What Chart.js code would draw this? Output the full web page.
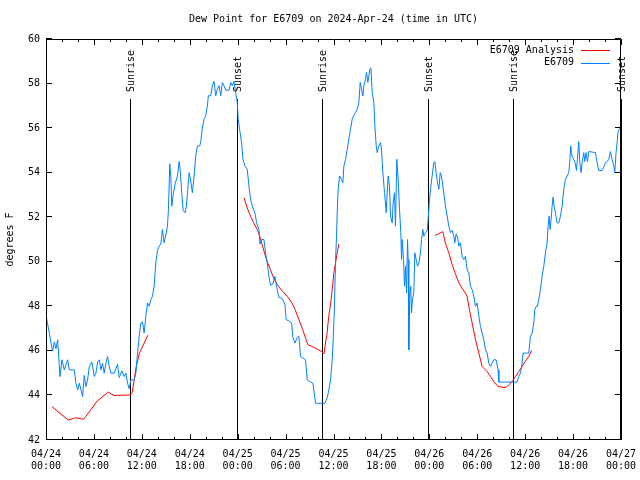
<!DOCTYPE html>
<html>
<head>
<meta charset="utf-8">
<script src="https://cdn.jsdelivr.net/npm/chart.js@4.4.1/dist/chart.umd.min.js"></script>
<style>
    html, body { margin: 0; padding: 0; background: #fff; }
</style>
</head>
<body>
<canvas id="dewChart" width="640" height="480"></canvas>
<script>
const TITLE = 'Dew Point for E6709 on 2024-Apr-24 (time in UTC)';
const Y_TITLE = 'degrees F';
const DAY_LABELS = ['04/24', '04/25', '04/26', '04/27'];
const SUNRISE_HOURS = [10.52, 34.56, 58.48];
const SUNSET_HOURS = [23.92, 47.88, 71.95];

// observed dew point, hours since 04/24 00:00 UTC
const obsHours1 = [0, 0.42, 0.63, 0.83, 1.04, 1.25, 1.46, 1.75, 2.0, 2.29, 2.71, 2.92, 3.33, 3.54, 3.75, 3.96, 4.17, 4.38, 4.58, 4.79,
    5.0, 5.21, 5.42, 5.75, 6.04, 6.25, 6.46, 6.67, 6.88, 7.08, 7.29, 7.5, 7.71, 7.92, 8.13, 8.54, 8.96, 9.17, 9.5, 9.79,
    10.0, 10.21, 10.42, 10.63, 11.04, 11.25, 11.46, 11.67, 11.88, 12.08, 12.29, 12.5, 12.71, 12.92, 13.13, 13.33, 13.54, 13.75, 13.96, 14.17,
    14.38, 14.58, 14.79, 15.0, 15.21, 15.33, 15.5, 15.63, 15.75, 15.96, 16.17, 16.46, 16.67, 16.79, 17.0, 17.17, 17.42, 17.58, 17.75, 17.92,
    18.04, 18.21, 18.33, 18.54, 18.75, 18.96, 19.25, 19.38, 19.58, 19.79, 20.0, 20.21, 20.33, 20.63, 20.83, 21.04, 21.25, 21.46, 21.67, 21.88,
    22.08, 22.29, 22.5, 22.92, 23.13, 23.33, 23.54, 23.75];
const obsDew1 = [47.6, 46.8, 46.35, 46.0, 46.4, 46.1, 46.5, 44.85, 45.6, 45.15, 45.6, 45.15, 45.15, 45.15, 44.55, 44.25, 44.55, 44.25, 43.95, 44.9,
    44.4, 44.7, 45.3, 45.5, 44.85, 45.0, 45.5, 45.6, 45.15, 45.45, 45.0, 45.45, 45.75, 45.3, 45.0, 45.0, 45.4, 44.8, 45.1, 44.85,
    45.0, 44.55, 44.3, 44.7, 44.7, 45.0, 45.9, 46.65, 47.25, 47.3, 46.8, 47.55, 48.15, 48.0, 48.3, 48.45, 48.9, 49.95, 50.5, 50.7,
    50.8, 51.45, 50.85, 51.2, 51.6, 52.35, 54.4, 53.85, 52.5, 53.1, 53.5, 53.85, 54.5, 54.15, 53.1, 52.3, 52.2, 52.5, 53.25, 54.0,
    53.8, 53.4, 53.1, 53.85, 54.75, 55.2, 55.2, 55.4, 56.0, 56.4, 56.55, 57.0, 57.45, 57.45, 57.9, 58.1, 57.45, 57.75, 57.9, 57.45,
    58.05, 57.9, 57.7, 57.7, 58.05, 57.9, 58.1, 57.6];

const obsHours2 = [23.95, 24.07, 24.24, 24.49, 24.66, 24.91, 25.2, 25.41, 25.62, 25.83, 26.16, 26.37, 26.66, 26.79, 26.99, 27.29, 27.49, 27.7, 27.91, 28.12,
    28.41, 28.66, 28.95, 29.16, 29.58, 29.91, 30.08, 30.41, 30.75, 30.92, 31.17, 31.46, 31.67, 31.87, 32.08, 32.5, 32.71, 33.13, 33.42, 33.59,
    33.75, 34.17, 34.59, 34.92, 35.21, 35.42, 35.63, 35.84, 35.96, 36.09, 36.26, 36.38, 36.46, 36.59, 36.76, 37.01, 37.17, 37.3, 37.51, 37.72,
    37.92, 38.13, 38.34, 38.55, 38.76, 38.97, 39.18, 39.34, 39.51, 39.68, 39.8, 40.01, 40.14, 40.3, 40.43, 40.55, 40.68, 40.85, 41.05, 41.18,
    41.35, 41.47, 41.68, 41.89, 42.01, 42.18, 42.39, 42.6, 42.72, 42.85, 43.01, 43.14, 43.35, 43.47, 43.64, 43.76, 43.93, 44.1, 44.27, 44.43,
    44.52, 44.6, 44.77, 44.89, 45.02, 45.14, 45.27, 45.35, 45.43, 45.56, 45.68, 45.77, 45.89, 46.06, 46.18, 46.35, 46.52, 46.69, 46.89, 47.02,
    47.19, 47.31, 47.52];
const obsDew2 = [57.15, 56.4, 55.95, 55.35, 54.6, 54.3, 54.15, 53.4, 52.8, 52.5, 52.2, 51.75, 51.45, 50.8, 51.0, 51.0, 50.4, 49.95, 49.35, 48.95,
    49.0, 49.35, 48.75, 48.4, 48.35, 48.1, 47.4, 47.35, 47.25, 46.6, 46.35, 46.6, 46.65, 45.75, 45.7, 45.6, 44.7, 44.6, 44.55, 44.1,
    43.65, 43.65, 43.65, 43.65, 43.9, 44.25, 44.7, 45.6, 46.5, 47.7, 50.1, 51.15, 52.2, 53.25, 53.85, 53.7, 53.55, 54.3, 54.6, 55.05,
    55.5, 55.95, 56.4, 56.55, 56.7, 56.85, 57.15, 58.05, 57.75, 57.45, 57.9, 58.2, 58.5, 58.05, 58.35, 58.65, 58.7, 57.6, 57.15, 56.1,
    55.2, 54.9, 55.2, 55.35, 55.05, 54.0, 53.1, 52.2, 53.1, 53.85, 53.4, 52.05, 51.75, 52.65, 53.1, 51.6, 54.6, 53.7, 52.35, 51.3,
    50.1, 51.0, 50.1, 48.9, 49.8, 48.6, 51.0, 50.1, 46.05, 48.6, 48.9, 47.7, 48.3, 48.6, 50.4, 50.1, 49.8, 49.95, 50.4, 51.0,
    51.45, 51.15, 51.3];

const obsHours3 = [47.73, 47.85, 48.02, 48.19, 48.35, 48.56, 48.69, 48.85, 49.02, 49.19, 49.36, 49.52, 49.69, 49.86, 50.02, 50.23, 50.44, 50.65, 50.86, 51.07,
    51.19, 51.36, 51.53, 51.69, 51.9, 52.11, 52.32, 52.53, 52.73, 52.94, 53.15, 53.36, 53.57, 53.78, 53.99, 54.2, 54.4, 54.61, 54.82, 55.03,
    55.24, 55.45, 55.66, 55.86, 56.07, 56.36, 56.61, 56.7, 58.99, 59.2, 59.41, 59.62, 59.74, 60.45, 60.66, 60.87, 61.08, 61.2, 61.37, 61.54,
    61.7, 61.91, 62.12, 62.33, 62.54, 62.75, 62.87, 63.0, 63.12, 63.25, 63.37, 63.5, 63.62, 63.79, 64.0, 64.21, 64.42, 64.63, 64.83, 65.04,
    65.25, 65.46, 65.58, 65.71, 65.79, 65.88, 66.08, 66.29, 66.42, 66.54, 66.71, 66.84, 67.0, 67.13, 67.34, 67.46, 67.63, 67.8, 67.96, 68.8,
    69.01, 69.21, 69.63, 69.84, 70.05, 70.26, 70.47, 70.67, 70.88, 71.09, 71.22, 71.38, 71.51, 71.63, 71.76, 72.0];
const obsDew3 = [51.4, 51.9, 52.8, 53.4, 53.85, 54.45, 54.5, 54.0, 53.55, 53.25, 54.0, 53.85, 53.4, 52.95, 52.5, 52.05, 51.6, 51.3, 51.4, 51.15,
    50.85, 51.25, 51.1, 50.7, 50.85, 50.25, 50.1, 50.25, 49.65, 49.5, 48.9, 48.75, 48.45, 48.0, 48.15, 47.55, 47.1, 46.8, 46.5, 46.05,
    45.9, 45.45, 45.3, 45.45, 45.6, 45.6, 45.15, 44.6, 44.6, 44.85, 45.0, 45.45, 45.9, 45.9, 46.65, 46.8, 47.25, 47.85, 48.0, 48.0,
    48.3, 48.75, 49.35, 49.8, 50.4, 50.85, 51.6, 52.05, 51.45, 51.9, 52.5, 52.9, 52.5, 52.2, 51.75, 51.75, 52.05, 52.5, 53.25, 53.7,
    53.85, 54.0, 54.45, 55.2, 54.9, 54.75, 54.6, 54.4, 54.1, 54.6, 55.4, 54.45, 54.0, 54.45, 54.9, 54.5, 54.9, 54.5, 54.95, 54.9,
    54.45, 54.1, 54.1, 54.25, 54.45, 54.5, 54.6, 54.95, 54.6, 54.3, 54.0, 54.9, 55.35, 55.8, 55.95, 56.0];

// analysis runs (three separate pieces)
const anaHours1 = [0.75, 1.9, 2.8, 3.75, 4.7, 5.5, 6.4, 7.8, 8.5, 10.5, 10.8, 11.3, 11.7, 12.75];
const anaDew1 = [43.5, 43.15, 42.9, 43.0, 42.93, 43.3, 43.75, 44.15, 44.0, 44.02, 44.13, 45.3, 45.9, 46.7];
const anaHours2 = [24.78, 25.2, 25.6, 26.0, 26.45, 26.9, 27.3, 27.7, 28.1, 28.5, 28.96, 29.6, 30.2, 30.8, 31.2, 31.67,
    32.1, 32.5, 32.8, 33.3, 33.96, 34.5, 34.8, 35.0, 35.2, 35.4, 35.6, 35.84, 36.05, 36.26, 36.46, 36.67];
const anaDew2 = [52.87, 52.42, 52.05, 51.75, 51.45, 51.0, 50.47, 50.0, 49.65, 49.27, 48.97, 48.67, 48.45, 48.15, 47.85, 47.4,
    47.0, 46.57, 46.27, 46.2, 46.08, 45.97, 45.87, 46.35, 46.8, 47.55, 48.0, 48.75, 49.5, 49.95, 50.4, 50.8];
const anaHours3 = [48.7, 49.2, 49.7, 50.0, 50.44, 50.86, 51.3, 51.7, 52.1, 52.5, 52.73, 52.94, 53.36, 53.78, 54.2, 54.61,
    54.82, 55.24, 55.66, 56.07, 56.6, 57.1, 57.5, 57.95, 58.37, 58.8, 59.2, 59.62, 60.0, 60.45, 60.8];
const anaDew3 = [51.18, 51.27, 51.35, 50.85, 50.4, 49.87, 49.42, 49.05, 48.82, 48.6, 48.45, 48.0, 47.25, 46.5, 45.9, 45.3,
    45.22, 45.07, 44.85, 44.62, 44.4, 44.37, 44.35, 44.47, 44.62, 44.85, 45.07, 45.3, 45.52, 45.75, 46.02];

const OBS_COLOR = '#0080ff';
const ANA_COLOR = '#ff0000';
const FONT_FAMILY = '"DejaVu Sans Mono", "Liberation Mono", monospace';
const FONT = '10px ' + FONT_FAMILY;

const toPoints = (xs, ys) => xs.map((h, i) => ({x: h, y: ys[i]}));

const obsPoints = [
    ...toPoints(obsHours1, obsDew1),
    ...toPoints(obsHours2, obsDew2),
    ...toPoints(obsHours3, obsDew3)
];
// null entries break the analysis line between runs
const anaPoints = [
    ...toPoints(anaHours1, anaDew1),
    {x: 18, y: null},
    ...toPoints(anaHours2, anaDew2),
    {x: 42, y: null},
    ...toPoints(anaHours3, anaDew3)
];

const pad2 = n => String(n).padStart(2, '0');

// gnuplot-ish frame: inward tics, sunrise/sunset markers, title, legend
const gnuplotLook = {
    id: 'gnuplotLook',
    beforeDatasetsDraw(chart) {
        const {ctx, chartArea: a, scales: {x}} = chart;
        const events = [
            ...SUNRISE_HOURS.map(h => [h, 'Sunrise']),
            ...SUNSET_HOURS.map(h => [h, 'Sunset'])
        ];
        ctx.save();
        ctx.strokeStyle = '#000';
        ctx.lineWidth = 1;
        ctx.fillStyle = '#000';
        ctx.font = FONT;
        events.forEach(([h, label]) => {
            const px = Math.round(x.getPixelForValue(h)) + 0.5;
            ctx.beginPath();
            ctx.moveTo(px, a.top + 60);
            ctx.lineTo(px, a.bottom);
            ctx.stroke();
            ctx.save();
            ctx.translate(px + 1, a.top + 53);
            ctx.rotate(-Math.PI / 2);
            ctx.textAlign = 'left';
            ctx.textBaseline = 'middle';
            ctx.fillText(label, 0, 0);
            ctx.restore();
        });
        ctx.restore();
    },
    afterDatasetsDraw(chart) {
        const {ctx, chartArea: a, scales: {x, y}} = chart;
        ctx.save();
        ctx.strokeStyle = '#000';
        ctx.lineWidth = 1;
        ctx.beginPath();
        ctx.rect(a.left + 0.5, a.top + 0.5, a.right - a.left - 1, a.bottom - a.top - 1);
        for (let v = 42; v <= 60; v += 2) {
            const py = Math.round(y.getPixelForValue(v)) - 0.5;
            ctx.moveTo(a.left, py); ctx.lineTo(a.left + 6, py);
            ctx.moveTo(a.right, py); ctx.lineTo(a.right - 6, py);
        }
        for (let h = 0; h <= 72; h += 2) {
            const len = h % 6 === 0 ? 6 : 3;
            const px = Math.round(x.getPixelForValue(h)) + 0.5;
            ctx.moveTo(px, a.bottom); ctx.lineTo(px, a.bottom - len);
            ctx.moveTo(px, a.top); ctx.lineTo(px, a.top + len);
        }
        ctx.stroke();
        ctx.restore();
    },
    afterDraw(chart) {
        const {ctx, chartArea: a} = chart;
        ctx.save();
        ctx.fillStyle = '#000';
        ctx.font = FONT;
        ctx.textBaseline = 'middle';

        ctx.textAlign = 'center';
        ctx.fillText(TITLE, (a.left + a.right) / 2, 19);

        ctx.save();
        ctx.translate(10, (a.top + a.bottom) / 2);
        ctx.rotate(-Math.PI / 2);
        ctx.fillText(Y_TITLE, 0, 0);
        ctx.restore();

        // legend, top right inside the frame
        ctx.textAlign = 'right';
        chart.data.datasets.slice().sort((p, q) => q.order - p.order).forEach((ds, i) => {
            const ly = a.top + 11 + i * 12.5;
            ctx.fillText(ds.label, a.right - 47, ly);
            ctx.strokeStyle = ds.borderColor;
            ctx.lineWidth = 1;
            ctx.beginPath();
            ctx.moveTo(a.right - 40, Math.round(ly) + 0.5);
            ctx.lineTo(a.right - 11, Math.round(ly) + 0.5);
            ctx.stroke();
        });
        ctx.restore();
    }
};

new Chart(document.getElementById('dewChart'), {
    type: 'line',
    data: {
        datasets: [{
            label: 'E6709',
            data: obsPoints,
            borderColor: OBS_COLOR,
            borderWidth: 1,
            pointRadius: 0,
            borderJoinStyle: 'round',
            order: 0
        }, {
            label: 'E6709 Analysis',
            data: anaPoints,
            borderColor: ANA_COLOR,
            borderWidth: 1,
            pointRadius: 0,
            spanGaps: false,
            borderJoinStyle: 'round',
            order: 1
        }]
    },
    options: {
        responsive: false,
        animation: false,
        devicePixelRatio: 1,
        layout: {padding: {top: 39, right: 19, left: 0, bottom: 0}},
        plugins: {
            legend: {display: false},
            title: {display: false},
            tooltip: {enabled: false}
        },
        scales: {
            x: {
                type: 'linear',
                min: 0,
                max: 72,
                afterFit: s => { s.height = 40; s.paddingLeft = 0; s.paddingRight = 0; },
                grid: {display: false, drawTicks: false},
                border: {display: false},
                ticks: {
                    stepSize: 6,
                    padding: 8,
                    maxRotation: 0,
                    autoSkip: false,
                    color: '#000',
                    font: {family: FONT_FAMILY, size: 10, lineHeight: 1.25},
                    callback: v => [DAY_LABELS[Math.floor(v / 24)], pad2(v % 24) + ':00']
                }
            },
            y: {
                min: 42,
                max: 60,
                afterFit: s => { s.width = 46; s.paddingTop = 0; s.paddingBottom = 0; },
                grid: {display: false, drawTicks: false},
                border: {display: false},
                ticks: {
                    stepSize: 2,
                    padding: 6,
                    color: '#000',
                    font: {family: FONT_FAMILY, size: 10}
                }
            }
        }
    },
    plugins: [gnuplotLook]
});
</script>
</body>
</html>
